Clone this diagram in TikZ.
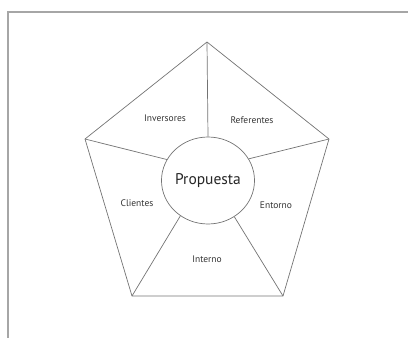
\documentclass[tikz,border=0pt]{standalone}
\usepackage{fontspec}
\setmainfont{PT Sans}
\usetikzlibrary{shapes.geometric}
\begin{document}
\begin{tikzpicture}[x=1pt,y=-1pt,
  edge/.style={draw=black!55,line width=0.7pt},
  lbl/.style={font=\fontsize{9.5}{11}\selectfont,text=black!80,inner sep=0pt},
  frame/.style={draw=black!35,line width=1.4pt}]
\useasboundingbox (0,0) rectangle (408,338);
\draw[frame] (8,338) -- (8,12) -- (408,12);
\coordinate (T) at (207,42);
\coordinate (L) at (85,139);
\coordinate (R) at (329,139);
\coordinate (BL) at (132,296);
\coordinate (BR) at (283,296);
\node[ellipse,edge,minimum width=77pt,minimum height=87pt,inner sep=0pt,
  font=\fontsize{15.5}{17}\selectfont,text=black!85] (c) at (208,180.5) {Propuesta};
\draw[edge,line join=round] (T) -- (R) -- (BR) -- (BL) -- (L) -- cycle;
\draw[edge] (T) -- (c.90);
\draw[edge] (L) -- (c.153);
\draw[edge] (R) -- (c.28.5);
\draw[edge] (BL) -- (c.232);
\draw[edge] (BR) -- (c.306);
\node[lbl] (inv) at (165,118) {Inversores};
\node[lbl] (ref) at (252,120) {Referentes};
\node[lbl] (cli) at (137,203) {Clientes};
\node[lbl] (ent) at (276,205) {Entorno};
\node[lbl] (int) at (207,259) {Interno};
\end{tikzpicture}
\end{document}
